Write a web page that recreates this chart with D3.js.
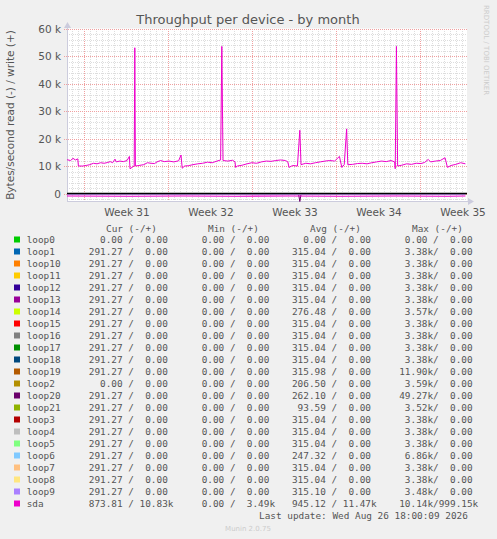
<!DOCTYPE html>
<html><head><meta charset="utf-8">
<script src="https://cdn.jsdelivr.net/npm/d3@7"></script>
<style>body{margin:0;background:#f0f0f0}text{font-family:"DejaVu Sans",sans-serif}text.mono{font-family:"DejaVu Sans Mono",monospace}</style>
</head><body><div id="chart"></div>
<script>
// days since start of the window, values in kB/s
const sdaWrite = [
  [0,12.3],[0.3,12.0],[0.5,12.8],[0.7,12.2],[0.9,12.6],[0.95,10.0],[1.3,10.0],[1.6,10.2],[1.9,10.5],[2.2,11.0],
  [2.5,10.8],[2.8,11.2],[3.1,11.0],[3.4,11.3],[3.6,11.6],[3.8,11.2],[4.0,12.5],[4.1,11.5],[4.4,11.8],[4.7,11.6],
  [5.0,12.0],[5.2,13.5],[5.25,9.0],[5.45,9.6],[5.6,10.0],[5.65,53.0],[5.7,10.0],[6.0,10.2],[6.4,10.5],[6.7,11.2],
  [7.0,11.0],[7.3,10.9],[7.5,11.5],[7.8,12.0],[8.1,11.6],[8.5,11.8],[8.9,11.5],[9.3,11.9],[9.5,14.0],[9.6,9.2],
  [9.8,10.0],[10.1,10.1],[10.5,10.5],[10.9,10.8],[11.3,11.0],[11.7,11.4],[12.1,11.2],[12.5,11.8],[12.8,12.2],[12.9,53.5],
  [13.0,12.0],[13.4,11.8],[13.8,12.1],[14.0,11.5],[14.05,9.5],[14.2,10.0],[14.6,10.3],[15.0,10.8],[15.4,11.2],[15.8,11.0],
  [16.2,11.5],[16.6,11.8],[17.0,11.7],[17.4,12.0],[17.8,12.2],[18.2,12.0],[18.4,11.5],[18.5,9.5],[18.8,10.2],[19.2,10.0],
  [19.4,23.0],[19.5,10.5],[19.9,11.0],[20.3,10.8],[20.7,11.2],[21.1,11.5],[21.5,11.8],[21.9,12.0],[22.3,11.8],[22.7,13.5],
  [22.9,9.5],[23.1,10.5],[23.3,23.5],[23.4,10.5],[23.8,10.6],[24.2,10.9],[24.6,11.0],[25.0,10.8],[25.4,11.2],[25.8,11.5],
  [26.2,11.8],[26.6,11.6],[27.0,12.0],[27.3,11.5],[27.35,9.0],[27.45,53.5],[27.55,10.0],[27.9,10.3],[28.3,10.8],[28.7,10.6],
  [29.1,11.0],[29.5,10.9],[29.8,11.3],[30.1,12.4],[30.3,11.5],[30.7,11.8],[31.1,12.0],[31.5,13.0],[31.7,9.5],[32.0,10.2],
  [32.4,10.6],[32.8,11.2],[33.2,10.8]
];
const sdaRead = [[0,0.9],[5.3,1.0],[9.6,0.9],[14.1,1.0],[18.5,0.9],[22.9,1.0],[27.4,0.9],[31.7,1.0],[33.2,0.9]];
const loopRead = [[0,0.29],[33.2,0.29]];
const loop20Read = [[0,0.29],[19.3,0.29],[19.4,2.9],[19.5,0.29],[33.2,0.29]];
const weekTicks = [[5,"Week 31"],[12,"Week 32"],[19,"Week 33"],[26,"Week 34"],[33,"Week 35"]];
const yTicks = [0,10,20,30,40,50,60];

const legendNames = ["loop0","loop1","loop10","loop11","loop12","loop13","loop14","loop15","loop16","loop17","loop18",
  "loop19","loop2","loop20","loop21","loop3","loop4","loop5","loop6","loop7","loop8","loop9","sda"];
const legendColors = ["#00CC00","#0066B3","#FF8000","#FFCC00","#330099","#990099","#CCFF00","#FF0000","#808080","#008F00",
  "#00487D","#B35A00","#B38F00","#6B006B","#8FB300","#B30000","#BEBEBE","#80FF80","#80C9FF","#FFC080","#FFE680","#AA80FF","#EE00CC"];
// [cur, min, avg, max] each as [read, write]
const legendStats = [
  [["0.00","0.00"],["0.00","0.00"],["0.00","0.00"],["0.00","0.00"]],
  ...Array(11).fill(null).map((_, i) => [["291.27","0.00"],["0.00","0.00"],[i===5?"276.48":i===10?"315.98":"315.04","0.00"],[i===5?"3.57k":i===10?"11.90k":"3.38k","0.00"]]),
  [["0.00","0.00"],["0.00","0.00"],["206.50","0.00"],["3.59k","0.00"]],
  [["291.27","0.00"],["0.00","0.00"],["262.10","0.00"],["49.27k","0.00"]],
  [["291.27","0.00"],["0.00","0.00"],["93.59","0.00"],["3.52k","0.00"]],
  [["291.27","0.00"],["0.00","0.00"],["315.04","0.00"],["3.38k","0.00"]],
  [["291.27","0.00"],["0.00","0.00"],["315.04","0.00"],["3.38k","0.00"]],
  [["291.27","0.00"],["0.00","0.00"],["315.04","0.00"],["3.38k","0.00"]],
  [["291.27","0.00"],["0.00","0.00"],["247.32","0.00"],["6.86k","0.00"]],
  [["291.27","0.00"],["0.00","0.00"],["315.04","0.00"],["3.38k","0.00"]],
  [["291.27","0.00"],["0.00","0.00"],["315.04","0.00"],["3.38k","0.00"]],
  [["291.27","0.00"],["0.00","0.00"],["315.10","0.00"],["3.48k","0.00"]],
  [["873.81","10.83k"],["0.00","3.49k"],["945.12","11.47k"],["10.14k","999.15k"]]
];

const W = 497, H = 539;
const svg = d3.select("#chart").append("svg").attr("width", W).attr("height", H);
svg.append("rect").attr("width", W).attr("height", H).attr("fill", "#f0f0f0");

const x = d3.scaleLinear().domain([0, 33.33]).range([67, 467]);
const y = d3.scaleLinear().domain([-2.9, 60]).range([201.5, 28.5]);

svg.append("rect").attr("x", 67).attr("y", 28.5).attr("width", 400).attr("height", 173).attr("fill", "#fff");

// minor grid
const grid = svg.append("g").attr("shape-rendering", "crispEdges");
d3.range(-2, 61, 2).filter(v => v % 10 !== 0).forEach(v => {
  grid.append("line").attr("x1", 67).attr("x2", 467).attr("y1", Math.round(y(v)) + 0.5).attr("y2", Math.round(y(v)) + 0.5)
    .attr("stroke", "#ddd").attr("stroke-dasharray", "1,1");
});
d3.range(0.4, 33.4, 0.5).forEach(d => {
  grid.append("line").attr("y1", 28.5).attr("y2", 201.5).attr("x1", Math.round(x(d)) + 0.5).attr("x2", Math.round(x(d)) + 0.5)
    .attr("stroke", (Math.abs((d - 1.4) % 7) < 0.01) ? "#f0a0a0" : "#ddd").attr("stroke-dasharray", "1,1");
});
yTicks.forEach(v => {
  grid.append("line").attr("x1", 64).attr("x2", 467).attr("y1", Math.round(y(v)) + 0.5).attr("y2", Math.round(y(v)) + 0.5)
    .attr("stroke", "#f0a0a0").attr("stroke-dasharray", "1,1");
  svg.append("text").attr("x", 61).attr("y", y(v) + 4).attr("text-anchor", "end").attr("font-size", 10.5).attr("fill", "#555")
    .text(v === 0 ? "0" : v + " k");
});
weekTicks.forEach(([d, t]) => {
  svg.append("text").attr("x", x(d)).attr("y", 216).attr("text-anchor", "middle").attr("font-size", 10.5).attr("fill", "#555").text(t);
});

// axes
svg.append("line").attr("x1", 67.5).attr("x2", 67.5).attr("y1", 201.5).attr("y2", 25).attr("stroke", "#ccd");
svg.append("path").attr("d", "M64,28 L67.5,22 L71,28 Z").attr("fill", "#ccd");
svg.append("line").attr("x1", 67).attr("x2", 470).attr("y1", 201.5).attr("y2", 201.5).attr("stroke", "#ccd");
svg.append("path").attr("d", "M468,198 L474,201.5 L468,205 Z").attr("fill", "#ccd");

const line = d3.line().x(d => x(d[0])).y(d => y(d[1]));
const neg = arr => arr.map(d => [d[0], -d[1]]);
const plot = svg.append("g");
legendNames.slice(0, -1).forEach((n, i) => {
  plot.append("path").datum(n === "loop20" ? neg(loop20Read) : neg(loopRead)).attr("d", line)
    .attr("fill", "none").attr("stroke", legendColors[i]).attr("stroke-width", 1);
});
plot.append("line").attr("x1", 67).attr("x2", 467).attr("y1", y(0)).attr("y2", y(0)).attr("stroke", "#000").attr("stroke-width", 1.5);
plot.append("path").datum(neg(sdaRead)).attr("d", line).attr("fill", "none").attr("stroke", "#EE00CC").attr("stroke-width", 1.2);
plot.append("path").datum(sdaWrite).attr("d", line).attr("fill", "none").attr("stroke", "#EE00CC").attr("stroke-width", 1);

// titles
svg.append("text").attr("x", 248).attr("y", 24).attr("text-anchor", "middle").attr("font-size", 13).attr("fill", "#555")
  .text("Throughput per device - by month");
svg.append("text").attr("transform", "translate(14,115) rotate(-90)").attr("text-anchor", "middle").attr("font-size", 10.5)
  .attr("fill", "#555").text("Bytes/second read (-) / write (+)");
svg.append("text").attr("transform", "translate(484,5) rotate(90)").attr("font-size", 7).attr("fill", "#ccc")
  .text("RRDTOOL / TOBI OETIKER");

// legend (rrdtool style: "%6.2lf%s" with a blank when there is no unit)
const cw = 17 / 3;
const val = s => s.endsWith("k") ? s.padStart(7) : (s + " ").padStart(7);
const field = ([r, w]) => val(r) + "/" + val(w);
const tx = (xx, yy, s) => svg.append("text").attr("class", "mono").attr("x", xx).attr("y", yy)
  .attr("font-size", 9.4).attr("fill", "#555").style("white-space", "pre").text(s);
[["Cur (-/+)", 14], ["Min (-/+)", 32], ["Avg (-/+)", 50], ["Max (-/+)", 68]].forEach(([s, c]) => tx(26.7 + c * cw, 231.5, s));
legendNames.forEach((n, i) => {
  const yy = 239.5 + i * 12;
  svg.append("rect").attr("x", 14).attr("y", yy - 3).attr("width", 6).attr("height", 6).attr("fill", legendColors[i]);
  tx(26.7, yy + 3.5, n.padEnd(11) + legendStats[i].map(field).join("   "));
});
tx(26.7 + 41 * cw, 239.5 + 23 * 12 + 3.5, "Last update: Wed Aug 26 18:00:09 2026");
svg.append("text").attr("x", 248).attr("y", 531).attr("text-anchor", "middle").attr("font-size", 7).attr("fill", "#ccc").text("Munin 2.0.75");
</script></body></html>
